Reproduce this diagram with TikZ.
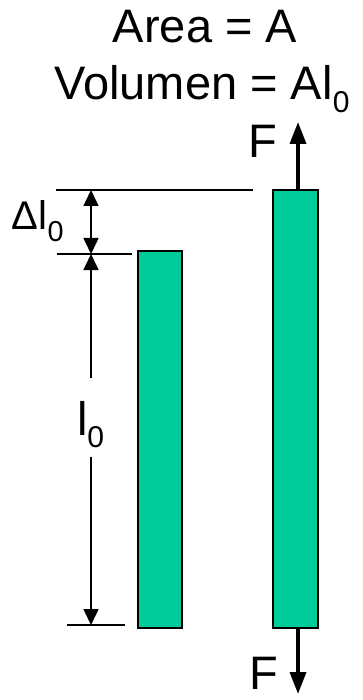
\documentclass[tikz,border=0pt]{standalone}
\usepackage{fontspec}
\setmainfont{Liberation Sans}
\usepackage{xcolor}
\usepackage{tikz}
\usetikzlibrary{arrows.meta, positioning, calc}
\definecolor{barfill}{HTML}{00CC99}
\newcommand{\lowsub}[1]{\raisebox{-0.27em}{\scalebox{0.64}{#1}}}

\begin{document}
\begin{tikzpicture}[
    x=1pt,y=-1pt,
    >=Latex,
    bar/.style={
        draw, line width=2pt, fill=barfill,
        inner sep=0pt, outer sep=0pt
    },
    lbl/.style={
        inner sep=0pt, outer sep=0pt,
        font=\fontsize{47}{56}\selectfont
    },
    extline/.style={line width=1.6pt},
    dim/.style={line width=1.6pt, -{Triangle[length=16pt,width=15pt]}},
    force/.style={line width=3.6pt, -{Triangle[length=22pt,width=16pt]}}
]
\useasboundingbox (0,0) rectangle (362,700);

% --- Title ---
\node[lbl, anchor=base] (area) at (205,43) {Area = A};
\node[lbl, anchor=base] (vol) at (202,100) {Volumen = Al\lowsub{0}};

% --- Bars ---
\node[bar, minimum width=44pt, minimum height=376pt] (bar0) at (159.5,439.5) {};
\node[bar, minimum width=45pt, minimum height=437pt] (bar1) at (295,409) {};

% --- Forces ---
\coordinate (ftop) at (298,122);
\coordinate (fbot) at (298,694);
\draw[force] (ftop |- bar1.north) -- (ftop);
\draw[force] (fbot |- bar1.south) -- (fbot);
\node[lbl, anchor=base west] (Ftop) at (248,158) {F};
\node[lbl, anchor=base west] (Fbot) at (249,689) {F};

% --- Extension lines ---
\coordinate (e1a) at (56,190);  \coordinate (e1b) at (253,190);
\coordinate (e2a) at (57,254);  \coordinate (e2b) at (132,254);
\coordinate (e3a) at (67,625);  \coordinate (e3b) at (125,625);
\draw[extline] (e1a) -- (e1b);
\draw[extline] (e2a) -- (e2b);
\draw[extline] (e3a) -- (e3b);

% --- Dimensions ---
\coordinate (d1) at (91,190);
\coordinate (d2) at (91,254);
\coordinate (d3) at (91,625);
\draw[dim, {Triangle[length=16pt,width=15pt]}-{Triangle[length=16pt,width=15pt]}] (d1) -- (d2);
\draw[dim] (91,378) -- (d2);
\draw[dim] (91,457) -- (d3);
\node[lbl, anchor=base west, font=\fontsize{40}{48}\selectfont] (dl) at (12,230)
    {Δl\raisebox{-0.3em}{\scalebox{0.72}{0}}};
\node[lbl, anchor=base west] (l0) at (77,435) {l\lowsub{0}};

\end{tikzpicture}
\end{document}
